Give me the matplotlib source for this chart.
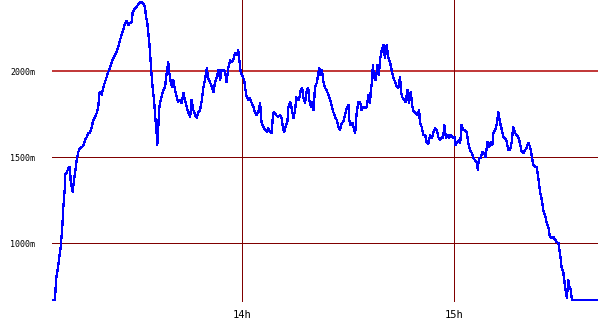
import matplotlib
matplotlib.use('Agg')
import matplotlib.pyplot as plt

# minutes after 13:00, altitude in metres
minutes = [6.4, 7.05, 7.33, 7.9, 8.66, 9.11, 9.4, 9.79, 9.88, 10.36, 10.81, 11.29, 11.49, 12.06, 12.34,
           12.71, 13.19, 13.64, 14.12, 15.06, 15.54, 16.02, 16.47, 16.95, 17.44, 17.89, 18.37, 18.85,
           19.3, 19.59, 19.98, 20.27, 20.55, 20.92, 21.2, 21.68, 22.13, 22.61, 23.1, 23.55, 24.03,
           24.51, 24.96, 25.44, 25.93, 26.38, 26.86, 27.34, 27.79, 28.27, 28.76, 29.04, 29.69, 30.17,
           30.62, 31.3, 31.87, 32.24, 32.52, 32.8, 33.17, 33.45, 33.74, 33.93, 34.22, 34.42, 34.7,
           35.07, 35.35, 35.63, 35.92, 36.0, 36.28, 36.48, 36.77,
           37.2, 37.7, 38.2, 38.5, 38.8, 39.1, 39.4, 39.8, 40.2, 40.5, 41.0, 41.5, 41.9, 42.4, 42.9,
           43.4, 43.8, 44.3, 44.8, 45.3, 45.7, 46.2, 46.7, 47.2, 47.6, 48.1, 48.6, 49.0, 49.5, 50.0,
           50.4, 50.9, 51.4, 51.9, 52.3, 52.8, 53.3, 53.8, 54.2, 54.7, 55.2, 55.6, 56.1, 56.6, 57.1,
           57.5, 58.0, 58.5, 58.9, 59.2, 59.6, 60.2, 60.6, 60.8, 61.3, 61.8, 62.2,
           62.7, 63.2, 63.6, 64.1, 64.6, 65.1, 65.3, 65.5, 66.0, 66.5, 67.0, 67.4, 67.9, 68.4, 68.7,
           69.0, 69.6, 70.2, 70.7, 71.2, 71.5, 71.9, 72.4, 72.8, 73.1, 73.6, 74.0, 74.5, 75.0, 75.3,
           75.6, 76.1, 76.6, 77.0, 77.3, 77.8, 78.3, 78.7, 79.0, 79.5, 79.9, 80.2, 80.4, 80.6, 81.1,
           81.6, 81.8, 82.2, 82.6, 83.0, 83.5, 83.9, 84.4, 84.9, 85.4, 85.8, 86.3, 86.8, 87.2, 87.7,
           88.2, 88.6, 89.1, 89.6, 90.1, 90.3, 90.7, 91.3, 91.7, 92.0, 92.4, 92.9, 93.4, 93.8, 94.3,
           94.8, 95.3, 95.7, 96.2, 96.4, 96.7, 97.0, 97.3, 97.8, 98.3, 98.7, 99.0, 99.5, 100.0, 100.4,
           100.9, 101.4, 101.9, 102.3, 102.8, 103.3, 103.8, 104.2, 104.7, 105.0, 105.3, 105.8, 106.3,
           106.8, 107.2, 107.7, 108.2, 108.6, 109.1, 109.6, 110.1, 110.3, 110.8, 111.3, 111.8, 112.2,
           112.7, 113.2, 113.7, 114.1, 114.6, 115.1, 115.5, 116.0, 116.5, 116.9, 117.2, 117.7, 118.1,
           118.6, 119.0, 119.6, 120.1, 120.4, 120.9, 121.5,
           121.7, 122.1, 122.6, 123.1, 123.6, 124.0, 124.5, 125.0, 125.4, 125.9, 126.4, 126.7, 127.0,
           127.5, 128.0, 128.5, 128.9, 129.4, 129.9, 130.4, 130.8, 131.1, 131.6, 132.1, 132.5, 133.0,
           133.5, 133.9, 134.4, 134.9, 135.3, 135.8, 136.3, 136.7, 137.2, 137.7, 138.2, 138.6, 139.1,
           139.6, 140.1, 140.5, 141.0, 141.5, 142.0, 142.4, 142.9, 143.4, 143.8, 144.3, 144.8, 145.2,
           145.7, 146.2, 146.7, 147.1, 147.6, 148.1, 148.6, 149.0, 149.5, 150.0, 150.4, 150.9, 151.4,
           151.9, 152.3, 152.6, 153.0, 153.3, 160.4]

altitude = [669, 669, 785, 861, 977, 1093, 1209, 1308, 1396, 1407, 1436, 1442, 1355, 1297, 1349,
            1407, 1483, 1529, 1553, 1564, 1599, 1616, 1640, 1640, 1675, 1715, 1733, 1756,
            1791, 1872, 1878, 1861, 1890, 1919, 1936, 1965, 1994, 2018, 2053, 2076, 2093,
            2111, 2140, 2180, 2210, 2239, 2279, 2291, 2268, 2279, 2285, 2343, 2366, 2372,
            2390, 2401, 2396, 2384, 2372, 2314, 2279, 2221, 2163, 2105, 2024, 1965, 1901,
            1832, 1756, 1675, 1616, 1570, 1675, 1773, 1814,
            1849, 1890, 1907, 1965, 2006, 2053, 1989, 1936, 1907, 1948, 1890, 1849, 1820, 1832, 1814,
            1872, 1832, 1791, 1756, 1733, 1832, 1773, 1744, 1727, 1762, 1773, 1832, 1901, 1948, 2018,
            1960, 1936, 1907, 1878, 1930, 1960, 2006, 1948, 2006, 2006, 1994, 1936, 2018, 2064, 2053,
            2064, 2105, 2093, 2122, 2064, 1994, 1965, 1948, 1907, 1849, 1832, 1843,
            1814, 1791, 1762, 1744, 1762, 1814, 1744, 1704, 1675, 1657, 1646, 1669, 1646, 1640, 1744,
            1762, 1744, 1733, 1744, 1727, 1675, 1646, 1686, 1704, 1791, 1820, 1785, 1727, 1773, 1849,
            1832, 1832, 1890, 1901, 1849, 1814, 1890, 1901, 1832, 1791, 1820, 1773, 1832, 1907, 1930,
            1989, 2018, 1977, 2006, 1936, 1901, 1890, 1861, 1832, 1791, 1762, 1733, 1715, 1675, 1657,
            1698, 1704, 1744, 1785, 1803, 1715, 1686, 1698, 1657, 1640, 1756, 1820, 1820, 1773, 1791,
            1785, 1791, 1861, 1814, 1890, 1930, 2035, 1965, 1948, 2035, 1977, 2064, 2122, 2151, 2076,
            2151, 2076, 2047, 2006, 1960, 1936, 1907, 1901, 1965, 1872, 1849, 1832, 1820,
            1890, 1814, 1878, 1791, 1762, 1756, 1744, 1773, 1698, 1675, 1628, 1628, 1587,
            1576, 1628, 1611, 1640, 1669, 1657, 1616, 1599, 1616, 1611, 1686, 1611, 1628,
            1611, 1628, 1611, 1616, 1570, 1587, 1599,
            1582, 1686, 1657, 1657, 1640, 1582, 1541, 1523, 1494, 1483, 1465, 1425, 1494,
            1494, 1529, 1523, 1500, 1587, 1558, 1587, 1570, 1640, 1657, 1698, 1762, 1698,
            1657, 1616, 1611, 1587, 1541, 1541, 1587, 1675, 1640, 1628, 1611, 1582, 1529,
            1523, 1541, 1553, 1582, 1558, 1500, 1454, 1442, 1442, 1378, 1297, 1250, 1192,
            1163, 1116, 1087, 1035, 1029, 1035, 1018, 1006, 1000, 930, 861, 826, 744,
            680, 785, 744, 727, 669, 669]

ytick_vals = [1000, 1500, 2000]
ytick_labels = ['1000m', '1500m', '2000m']
xtick_vals = [60, 120]
xtick_labels = ['14h', '15h']
limit_line = 2000

fig = plt.figure(figsize=(6, 3.3), dpi=100)
ax = fig.add_axes([52 / 600, 28 / 330, 546 / 600, 302 / 330])

ax.plot(minutes, altitude, color='#0000ff', lw=0.9, antialiased=False, zorder=3)

for v in ytick_vals:
    if v == limit_line:
        ax.axhline(v, color='#b00000', lw=1.1, zorder=1)
    else:
        ax.axhline(v, color='#800000', lw=0.72, antialiased=False, zorder=1)
for v in xtick_vals:
    ax.axvline(v, color='#800000', lw=0.72, antialiased=False, zorder=1)

ax.set_xlim(6.2, 160.7)
ax.set_ylim(657, 2413)
ax.set_yticks(ytick_vals)
ax.set_yticklabels(ytick_labels, family='DejaVu Sans Mono', fontsize=6)
ax.set_xticks(xtick_vals)
ax.set_xticklabels(xtick_labels, family='DejaVu Sans Mono', fontsize=7.5)
ax.tick_params(axis='y', length=0, pad=12)
ax.tick_params(axis='x', length=0, pad=6)
for s in ax.spines.values():
    s.set_visible(False)

plt.savefig('out.png', dpi=100)
plt.close()
